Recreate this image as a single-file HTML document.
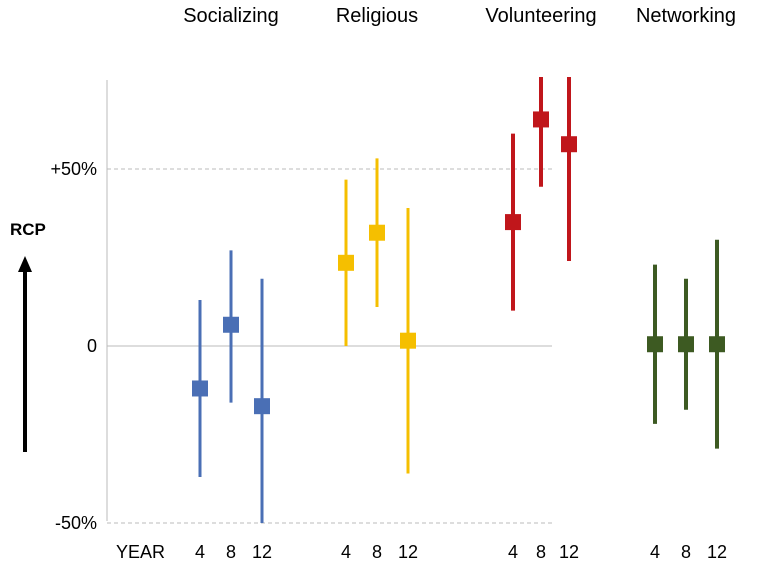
<!DOCTYPE html>
<html><head><meta charset="utf-8"><style>
body{margin:0;background:#fff;}
svg text{font-family:"Liberation Sans",sans-serif;fill:#000;}
</style></head><body>
<svg id="chart" width="760" height="572" viewBox="0 0 760 572" xmlns="http://www.w3.org/2000/svg">
<g id="axes"></g><g id="marks"></g>
</svg>
<script>
const groups=["Socializing","Religious","Volunteering","Networking"];
const years=["4","8","12"];
const colors=["#4a6fb5","#f5bf00","#c0161b","#3d5a22"];
const means=[[-12,6,-17],[23.5,32,1.5],[35,64,57],[0.5,0.5,0.5]];
const lows=[[-37,-16,-50],[0,11,-36],[10,45,24],[-22,-18,-29]];
const highs=[[13,27,19],[47,53,39],[60,76,76],[23,19,30]];
const yTicks=[50,0,-50];
const yTickLabels=["+50%","0","-50%"];

const NS="http://www.w3.org/2000/svg";
const y=v=>346-v*3.54;
const groupCenter=[231,377,541,686];
const x=(g,i)=>groupCenter[g]+(i-1)*(g==2?28:31);
const lw=[3,3,4,4];
function mk(tag,attrs,parent,txt){const e=document.createElementNS(NS,tag);for(const k in attrs)e.setAttribute(k,attrs[k]);if(txt!==undefined)e.textContent=txt;parent.appendChild(e);return e;}
const axes=document.getElementById('axes'),marks=document.getElementById('marks');
let e=mk('line',{x1:107,y1:80,x2:107,y2:521,stroke:'#bbb','stroke-width':1},axes);

yTicks.forEach((t,i)=>{
  const l=mk('line',{x1:107,x2:552,y1:y(t),y2:y(t),stroke:'#bbb','stroke-width':1,'stroke-dasharray':t==0?'':'4,3'},axes);
  
  const tx=mk('text',{x:97,y:y(t)+6,'text-anchor':'end','font-size':18},axes,yTickLabels[i]);
  
});
e=mk('text',{x:10,y:235,'font-size':17,'font-weight':'bold'},axes,'RCP');

e=mk('line',{x1:25,y1:452,x2:25,y2:270,stroke:'#000','stroke-width':4},axes);

e=mk('polygon',{points:'25,256 18,272 32,272',fill:'#000'},axes);

e=mk('text',{x:116,y:558,'font-size':18},axes,'YEAR');

groups.forEach((gname,g)=>{
  const t=mk('text',{x:groupCenter[g],y:22,'text-anchor':'middle','font-size':20},axes,gname);
  
  years.forEach((yr,i)=>{
    const xl=mk('text',{x:x(g,i),y:558,'text-anchor':'middle','font-size':18},axes,yr);
    
    const ln=mk('line',{x1:x(g,i),x2:x(g,i),y1:y(highs[g][i]),y2:y(lows[g][i]),stroke:colors[g],'stroke-width':lw[g]},marks);
    
    const r=mk('rect',{x:x(g,i)-8,y:y(means[g][i])-8,width:16,height:16,fill:colors[g]},marks);
    
  });
});
</script>
</body></html>
